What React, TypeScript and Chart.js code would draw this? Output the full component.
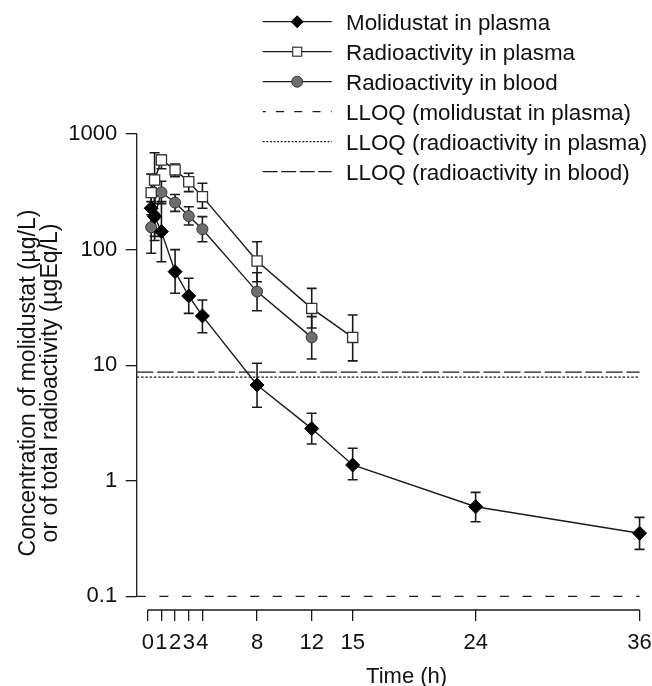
import React, { useEffect, useRef } from "react";
import { Chart, registerables } from "chart.js";

Chart.register(...registerables);

// ---- data ----
const TIME_MOL = [0.25, 0.5, 1, 2, 3, 4, 8, 12, 15, 24, 36];
const MOL = [228, 193, 143, 64.4, 39.7, 26.7, 6.74, 2.83, 1.37, 0.597, 0.352];
const MOL_LO = [150, 120, 78.5, 41.9, 28.1, 19.1, 4.33, 2.08, 1.02, 0.443, 0.255];
const MOL_HI = [330, 300, 260, 100, 56.5, 36.6, 10.4, 3.84, 1.91, 0.795, 0.483];

const TIME_RP = [0.25, 0.5, 1, 2, 3, 4, 8, 12, 15];
const RP = [311, 400, 596, 489, 386, 287, 79.6, 31.0, 17.4];
const RP_LO = [200, 250, 500, 428, 317, 228, 52.7, 21, 10.9];
const RP_HI = [450, 689, 658, 550, 457, 375, 117, 46.2, 27.2];

const TIME_RB = [0.25, 0.5, 1, 2, 3, 4, 8, 12];
const RB = [156, 195, 313, 255, 195, 150, 43.3, 17.4];
const RB_LO = [93, 130, 250, 214, 163, 117, 29.6, 11.3];
const RB_HI = [260, 290, 390, 300, 235, 193, 63, 26.3];

const LLOQ_MOL = 0.1;
const LLOQ_RP = 7.9;
const LLOQ_RB = 8.7;
const LLOQ_END = 36;

const X_TICKS = [0, 1, 2, 3, 4, 8, 12, 15, 24, 36];
const Y_TICKS = [0.1, 1, 10, 100, 1000];
const X_MIN = -0.81;
const X_MAX = 38.71;
const Y_MIN = 0.0763;
const Y_MAX = 645;

const LEGEND_LABELS = [
  "Molidustat in plasma",
  "Radioactivity in plasma",
  "Radioactivity in blood",
  "LLOQ (molidustat in plasma)",
  "LLOQ (radioactivity in plasma)",
  "LLOQ (radioactivity in blood)",
];
const X_TITLE = "Time (h)";
const Y_TITLE = [
  "Concentration of molidustat (\u00b5g/L)",
  "or of total radioactivity (\u00b5gEq/L)",
];

const FONT = "'Liberation Sans', Arial, Helvetica, sans-serif";
const INK = "#1a1a1a";
const CANVAS_W = 700;
const CANVAS_H = 686;

const pts = (t: number[], v: number[]) => t.map((x, i) => ({ x, y: v[i] }));

const ERR = [
  { t: TIME_RB, lo: RB_LO, hi: RB_HI },
  { t: TIME_RP, lo: RP_LO, hi: RP_HI },
  { t: TIME_MOL, lo: MOL_LO, hi: MOL_HI },
];

const errorBarPlugin = {
  id: "errbars",
  beforeDatasetsDraw(chart: any) {
    const { ctx } = chart;
    const x = chart.scales.x;
    const y = chart.scales.y;
    ctx.save();
    ctx.strokeStyle = INK;
    ctx.lineWidth = 1.6;
    for (const s of ERR) {
      s.t.forEach((t, i) => {
        const px = x.getPixelForValue(t);
        const yl = y.getPixelForValue(s.lo[i]);
        const yh = y.getPixelForValue(s.hi[i]);
        ctx.beginPath();
        ctx.moveTo(px, yl);
        ctx.lineTo(px, yh);
        ctx.moveTo(px - 5, yl);
        ctx.lineTo(px + 5, yl);
        ctx.moveTo(px - 5, yh);
        ctx.lineTo(px + 5, yh);
        ctx.stroke();
      });
    }
    ctx.restore();
  },
};

const axisLinePlugin = {
  id: "axislines",
  afterDraw(chart: any) {
    const { ctx, chartArea } = chart;
    const x = chart.scales.x;
    const y = chart.scales.y;
    ctx.save();
    ctx.strokeStyle = INK;
    ctx.lineWidth = 1.3;
    ctx.beginPath();
    ctx.moveTo(x.getPixelForValue(X_TICKS[0]), chartArea.bottom);
    ctx.lineTo(x.getPixelForValue(X_TICKS[X_TICKS.length - 1]), chartArea.bottom);
    ctx.moveTo(chartArea.left, y.getPixelForValue(Y_TICKS[0]));
    ctx.lineTo(chartArea.left, y.getPixelForValue(Y_TICKS[Y_TICKS.length - 1]));
    ctx.stroke();
    ctx.restore();
  },
};

function Legend() {
  const x1 = 262.7;
  const x2 = 331.7;
  const cx = (x1 + x2) / 2;
  const rows = LEGEND_LABELS.map((label, i) => {
    const cy = 21.7 + 30 * i;
    let sample: React.ReactNode = null;
    if (i === 0) {
      sample = (
        <g>
          <line x1={x1} x2={x2} y1={cy} y2={cy} stroke={INK} strokeWidth={1.3} />
          <polygon
            points={`${cx - 6.5},${cy} ${cx},${cy - 6.5} ${cx + 6.5},${cy} ${cx},${cy + 6.5}`}
            fill="#000"
          />
        </g>
      );
    } else if (i === 1) {
      sample = (
        <g>
          <line x1={x1} x2={x2} y1={cy} y2={cy} stroke={INK} strokeWidth={1.3} />
          <rect x={cx - 4.5} y={cy - 4.5} width={9} height={9} fill="#fff" stroke="#333" strokeWidth={1.2} />
        </g>
      );
    } else if (i === 2) {
      sample = (
        <g>
          <line x1={x1} x2={x2} y1={cy} y2={cy} stroke={INK} strokeWidth={1.3} />
          <circle cx={cx} cy={cy} r={5.5} fill="#6e6e6e" stroke="#333" strokeWidth={1} />
        </g>
      );
    } else if (i === 3) {
      sample = (
        <line x1={x1} x2={x2} y1={cy} y2={cy} stroke={INK} strokeWidth={1.3} strokeDasharray="8 10.3" strokeDashoffset={5} />
      );
    } else if (i === 4) {
      sample = (
        <line x1={x1} x2={x2} y1={cy} y2={cy} stroke={INK} strokeWidth={1.2} strokeDasharray="2 1.6" />
      );
    } else {
      sample = (
        <line x1={x1} x2={x2} y1={cy} y2={cy} stroke={INK} strokeWidth={1.3} strokeDasharray="15 3.5" />
      );
    }
    return (
      <g key={label}>
        {sample}
        <text x={346} y={cy + 7.8} fontSize={22.4} fontFamily={FONT} fill="#111">
          {label}
        </text>
      </g>
    );
  });
  return (
    <svg
      width={652}
      height={200}
      style={{ position: "absolute", left: 0, top: 0, pointerEvents: "none" }}
    >
      {rows}
    </svg>
  );
}

export default function App() {
  const ref = useRef<HTMLCanvasElement | null>(null);

  useEffect(() => {
    if (!ref.current) return;
    const chart = new Chart(ref.current, {
      type: "line",
      data: {
        datasets: [
          {
            label: LEGEND_LABELS[0],
            data: pts(TIME_MOL, MOL),
            borderColor: INK,
            borderWidth: 1.4,
            pointStyle: "rectRot",
            pointRadius: 7,
            pointBackgroundColor: "#000",
            pointBorderColor: "#000",
            pointBorderWidth: 1,
            fill: false,
            tension: 0,
            clip: false,
          } as any,
          {
            label: LEGEND_LABELS[1],
            data: pts(TIME_RP, RP),
            borderColor: INK,
            borderWidth: 1.4,
            pointStyle: "rect",
            pointRadius: 7.2,
            pointBackgroundColor: "#fff",
            pointBorderColor: "#333",
            pointBorderWidth: 1.3,
            fill: false,
            tension: 0,
            clip: false,
          },
          {
            label: LEGEND_LABELS[2],
            data: pts(TIME_RB, RB),
            borderColor: INK,
            borderWidth: 1.4,
            pointStyle: "circle",
            pointRadius: 5.5,
            pointBackgroundColor: "#6e6e6e",
            pointBorderColor: "#333",
            pointBorderWidth: 1,
            fill: false,
            tension: 0,
            clip: false,
          },
          {
            label: LEGEND_LABELS[3],
            data: [
              { x: X_MIN, y: LLOQ_MOL },
              { x: LLOQ_END, y: LLOQ_MOL },
            ],
            borderColor: INK,
            borderWidth: 1.3,
            borderDash: [9, 13.7],
            pointRadius: 0,
            fill: false,
            clip: false,
          },
          {
            label: LEGEND_LABELS[4],
            data: [
              { x: X_MIN, y: LLOQ_RP },
              { x: LLOQ_END, y: LLOQ_RP },
            ],
            borderColor: INK,
            borderWidth: 1.2,
            borderDash: [2.5, 1.8],
            pointRadius: 0,
            fill: false,
            clip: false,
          },
          {
            label: LEGEND_LABELS[5],
            data: [
              { x: X_MIN, y: LLOQ_RB },
              { x: LLOQ_END, y: LLOQ_RB },
            ],
            borderColor: INK,
            borderWidth: 1.3,
            borderDash: [16.7, 3.7],
            pointRadius: 0,
            fill: false,
            clip: false,
          },
        ],
      },
      options: {
        responsive: false,
        maintainAspectRatio: false,
        animation: false,
        devicePixelRatio: 1,
        layout: { padding: { top: 156, right: CANVAS_W - 676.6, bottom: 0, left: 0 } },
        plugins: {
          legend: { display: false },
          tooltip: { enabled: false },
        },
        scales: {
          x: {
            type: "linear",
            min: X_MIN,
            max: X_MAX,
            afterBuildTicks: (s: any) => {
              s.ticks = X_TICKS.map((v) => ({ value: v }));
            },
            afterFit: (s: any) => {
              s.height = 76;
              s.paddingLeft = 0;
              s.paddingRight = 0;
            },
            grid: {
              display: true,
              drawOnChartArea: false,
              drawTicks: true,
              tickLength: 11,
              color: INK,
              lineWidth: 1.3,
            },
            border: { display: false },
            ticks: {
              autoSkip: false,
              maxRotation: 0,
              minRotation: 0,
              padding: 8.6,
              color: "#111",
              font: { family: FONT, size: 22 },
              callback: (v: any) => String(v),
            },
            title: {
              display: true,
              text: X_TITLE,
              color: "#111",
              font: { family: FONT, size: 22, lineHeight: 0.84 },
              padding: 0,
            },
          },
          y: {
            type: "logarithmic",
            min: Y_MIN,
            max: Y_MAX,
            afterBuildTicks: (s: any) => {
              s.ticks = Y_TICKS.map((v) => ({ value: v }));
            },
            afterFit: (s: any) => {
              s.width = 136.7;
              s.paddingTop = 0;
              s.paddingBottom = 0;
            },
            grid: {
              display: true,
              drawOnChartArea: false,
              drawTicks: true,
              tickLength: 11,
              color: INK,
              lineWidth: 1.3,
            },
            border: { display: false },
            ticks: {
              autoSkip: false,
              padding: 8.5,
              color: "#111",
              font: { family: FONT, size: 22 },
              callback: (v: any) => String(v),
            },
            title: {
              display: true,
              text: Y_TITLE,
              color: "#111",
              font: { family: FONT, size: 23, lineHeight: 0.96 },
              padding: { top: 18, bottom: 0 },
            },
          },
        },
      },
      plugins: [errorBarPlugin, axisLinePlugin],
    });
    return () => chart.destroy();
  }, []);

  return (
    <div
      style={{
        position: "absolute",
        left: 0,
        top: 0,
        width: 652,
        height: 686,
        overflow: "hidden",
        background: "#fff",
      }}
    >
      <canvas ref={ref} width={CANVAS_W} height={CANVAS_H} style={{ display: "block" }} />
      <Legend />
    </div>
  );
}
